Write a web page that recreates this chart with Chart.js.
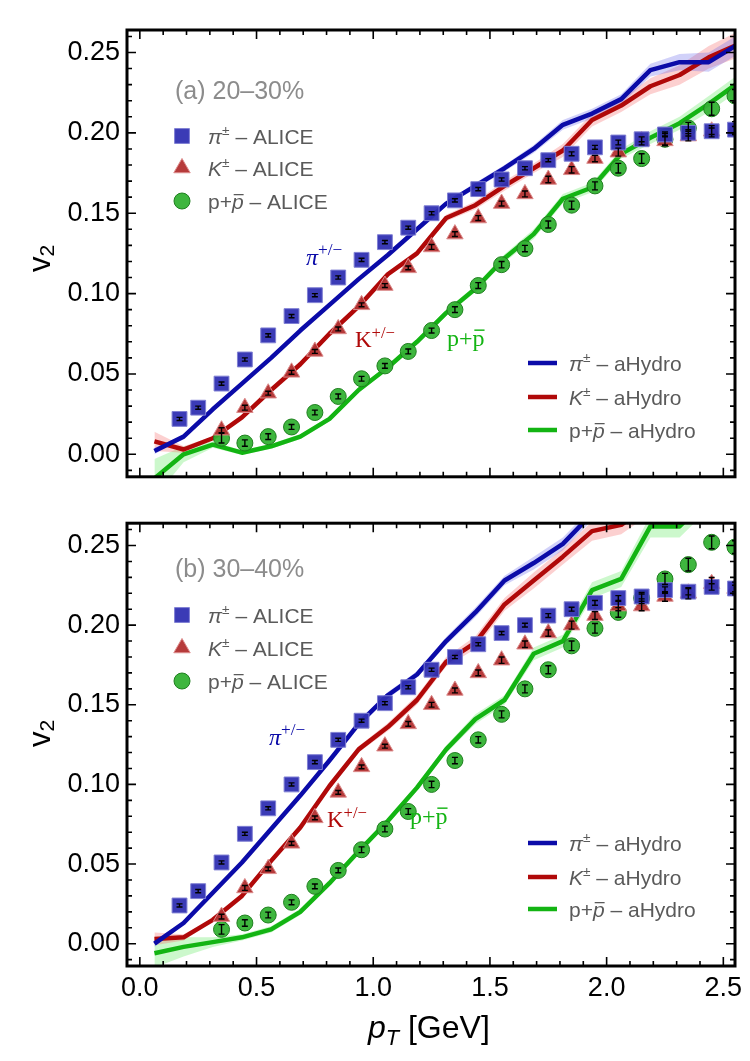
<!DOCTYPE html>
<html>
<head>
<meta charset="utf-8">
<script src="https://cdn.jsdelivr.net/npm/chart.js@4.4.1/dist/chart.umd.min.js"></script>
<style>
  html, body { margin: 0; padding: 0; background: #fff; }
  body { width: 750px; height: 1061px; position: relative; overflow: hidden; }
  .panel { position: absolute; left: 0; width: 750px; }
  #wrapA { top: 0; height: 500px; }
  #wrapB { top: 500px; height: 561px; }
</style>
</head>
<body>
<div id="wrapA" class="panel"><canvas id="chartA" width="750" height="500"></canvas></div>
<div id="wrapB" class="panel"><canvas id="chartB" width="750" height="561"></canvas></div>
<script>
// ---- data (v2 vs pT) ----
const ptPion = [0.17, 0.25, 0.35, 0.45, 0.55, 0.65, 0.75, 0.85, 0.95, 1.05, 1.15, 1.25, 1.35, 1.45, 1.55, 1.65, 1.75, 1.85, 1.95, 2.05, 2.15, 2.25, 2.35, 2.45, 2.55];
const ptHeavy = [0.35, 0.45, 0.55, 0.65, 0.75, 0.85, 0.95, 1.05, 1.15, 1.25, 1.35, 1.45, 1.55, 1.65, 1.75, 1.85, 1.95, 2.05, 2.15, 2.25, 2.35, 2.45, 2.55];
const ptModel = [0.0625, 0.1875, 0.3125, 0.4375, 0.5625, 0.6875, 0.8125, 0.9375, 1.0625, 1.1875, 1.3125, 1.4375, 1.5625, 1.6875, 1.8125, 1.9375, 2.0625, 2.1875, 2.3125, 2.4375, 2.5625];

const xTicks = [0, 0.5, 1, 1.5, 2, 2.5];
const yTicks = [0, 0.05, 0.1, 0.15, 0.2, 0.25];

// (a) 20-30%
const pionA = [0.022, 0.029, 0.044, 0.059, 0.074, 0.086, 0.099, 0.110, 0.121, 0.132, 0.141, 0.150, 0.158, 0.165, 0.171, 0.178, 0.183, 0.187, 0.191, 0.194, 0.196, 0.199, 0.200, 0.201, 0.202];
const pionErrA = [0.001, 0.001, 0.001, 0.001, 0.001, 0.001, 0.001, 0.001, 0.001, 0.001, 0.001, 0.001, 0.001, 0.001, 0.001, 0.001, 0.001, 0.0012, 0.0012, 0.0015, 0.0015, 0.0015, 0.002, 0.002, 0.002];
const kaonA = [0.015, 0.029, 0.038, 0.051, 0.064, 0.078, 0.093, 0.105, 0.116, 0.129, 0.137, 0.147, 0.156, 0.162, 0.171, 0.177, 0.184, 0.188, 0.195, 0.195, 0.198, 0.201, 0.203];
const kaonErrA = [0.0015, 0.0015, 0.0012, 0.0012, 0.0012, 0.0012, 0.0012, 0.0012, 0.0012, 0.0015, 0.0015, 0.0015, 0.0015, 0.0018, 0.002, 0.002, 0.002, 0.0025, 0.0025, 0.003, 0.003, 0.0035, 0.004];
const protonA = [0.010, 0.007, 0.011, 0.017, 0.026, 0.036, 0.047, 0.055, 0.064, 0.077, 0.090, 0.105, 0.118, 0.128, 0.143, 0.155, 0.167, 0.178, 0.184, 0.196, 0.203, 0.215, 0.223];
const protonErrA = [0.003, 0.002, 0.0018, 0.0015, 0.0015, 0.0015, 0.0015, 0.0015, 0.0015, 0.0015, 0.0018, 0.0018, 0.002, 0.002, 0.0022, 0.0025, 0.0025, 0.003, 0.003, 0.0035, 0.0035, 0.004, 0.004];
const hydroPionA = [0.002, 0.011, 0.028, 0.044, 0.060, 0.077, 0.093, 0.109, 0.124, 0.140, 0.156, 0.167, 0.178, 0.190, 0.205, 0.212, 0.221, 0.239, 0.244, 0.244, 0.255];
const bandPionA = [0.002, 0.001, 0.001, 0.001, 0.001, 0.001, 0.001, 0.001, 0.001, 0.0015, 0.0015, 0.002, 0.002, 0.0025, 0.003, 0.003, 0.003, 0.004, 0.005, 0.006, 0.006];
const hydroKaonA = [0.008, 0.003, 0.010, 0.023, 0.040, 0.056, 0.075, 0.092, 0.112, 0.125, 0.147, 0.155, 0.167, 0.178, 0.189, 0.208, 0.217, 0.229, 0.236, 0.247, 0.255];
const bandKaonA = [0.006, 0.002, 0.001, 0.001, 0.0012, 0.0012, 0.0015, 0.0015, 0.0015, 0.002, 0.002, 0.0025, 0.003, 0.003, 0.004, 0.004, 0.004, 0.005, 0.006, 0.007, 0.008];
const hydroProtonA = [-0.015, 0.000, 0.006, 0.001, 0.005, 0.011, 0.022, 0.040, 0.054, 0.070, 0.088, 0.103, 0.122, 0.137, 0.159, 0.166, 0.187, 0.197, 0.206, 0.218, 0.231];
const bandProtonA = [0.012, 0.005, 0.002, 0.0015, 0.0015, 0.0015, 0.0015, 0.0015, 0.0015, 0.0015, 0.002, 0.002, 0.0025, 0.003, 0.003, 0.003, 0.003, 0.004, 0.004, 0.005, 0.005];

// (b) 30-40%
const pionB = [0.024, 0.033, 0.051, 0.069, 0.085, 0.100, 0.114, 0.128, 0.140, 0.151, 0.161, 0.172, 0.180, 0.188, 0.195, 0.200, 0.206, 0.210, 0.214, 0.217, 0.218, 0.222, 0.221, 0.224, 0.223];
const pionErrB = [0.001, 0.001, 0.001, 0.001, 0.001, 0.001, 0.001, 0.001, 0.001, 0.001, 0.001, 0.001, 0.001, 0.001, 0.001, 0.0012, 0.0012, 0.0012, 0.0015, 0.0015, 0.0015, 0.002, 0.002, 0.002, 0.002];
const kaonB = [0.017, 0.035, 0.047, 0.063, 0.079, 0.095, 0.111, 0.124, 0.138, 0.150, 0.159, 0.170, 0.178, 0.188, 0.195, 0.200, 0.206, 0.212, 0.212, 0.218, 0.220, 0.226, 0.223];
const kaonErrB = [0.0015, 0.0015, 0.0012, 0.0012, 0.0012, 0.0012, 0.0012, 0.0012, 0.0015, 0.0015, 0.0015, 0.0018, 0.002, 0.002, 0.002, 0.0025, 0.0025, 0.003, 0.003, 0.003, 0.0035, 0.004, 0.004];
const protonB = [0.009, 0.013, 0.018, 0.026, 0.036, 0.046, 0.059, 0.072, 0.083, 0.100, 0.115, 0.128, 0.144, 0.160, 0.172, 0.187, 0.198, 0.208, 0.217, 0.229, 0.238, 0.252, 0.249];
const protonErrB = [0.003, 0.002, 0.0018, 0.0015, 0.0015, 0.0015, 0.0018, 0.0018, 0.0018, 0.002, 0.002, 0.002, 0.0022, 0.0025, 0.0025, 0.003, 0.003, 0.003, 0.0035, 0.0035, 0.004, 0.004, 0.004];
const hydroPionB = [0.000, 0.013, 0.032, 0.051, 0.072, 0.093, 0.115, 0.138, 0.156, 0.169, 0.190, 0.208, 0.228, 0.239, 0.251, 0.270, 0.285, 0.297, 0.308, 0.318, 0.330];
const bandPionB = [0.002, 0.001, 0.001, 0.001, 0.001, 0.0015, 0.0015, 0.002, 0.002, 0.002, 0.0025, 0.003, 0.003, 0.004, 0.004, 0.004, 0.005, 0.005, 0.006, 0.006, 0.006];
const hydroKaonB = [0.003, 0.004, 0.015, 0.030, 0.052, 0.073, 0.099, 0.122, 0.136, 0.153, 0.177, 0.189, 0.213, 0.228, 0.243, 0.259, 0.263, 0.276, 0.288, 0.298, 0.310];
const bandKaonB = [0.004, 0.002, 0.001, 0.0012, 0.0015, 0.0015, 0.002, 0.002, 0.0025, 0.003, 0.003, 0.004, 0.004, 0.005, 0.005, 0.006, 0.006, 0.006, 0.007, 0.007, 0.007];
const hydroProtonB = [-0.006, -0.002, 0.001, 0.004, 0.009, 0.020, 0.038, 0.058, 0.077, 0.098, 0.122, 0.141, 0.153, 0.182, 0.190, 0.222, 0.229, 0.262, 0.262, 0.280, 0.290];
const bandProtonB = [0.009, 0.006, 0.003, 0.002, 0.002, 0.002, 0.002, 0.002, 0.002, 0.002, 0.0025, 0.003, 0.003, 0.004, 0.004, 0.005, 0.005, 0.007, 0.007, 0.007, 0.007];

// ---- styling ----
const SANS = '"Liberation Sans", Arial, sans-serif';
const SERIF = '"Liberation Serif", "Times New Roman", serif';
const COL = {
    pion:   { line: '#0b0ba8', band: 'rgba(90,90,235,0.28)', fill: 'rgba(48,48,178,0.95)', edge: '#8080d4' },
    kaon:   { line: '#b00909', band: 'rgba(245,110,110,0.32)', fill: 'rgba(178,48,48,0.95)', edge: '#dc8c8c' },
    proton: { line: '#13b413', band: 'rgba(110,235,110,0.35)', fill: 'rgba(52,178,52,0.95)', edge: '#1f7f1f' },
};
const legendGray = '#5a5a5a';
const tagGray = '#8c8c8c';

// draw a run of text pieces (italic / superscript / subscript / overbar)
function rich(ctx, x, y, parts, size, family, color) {
    let cx = x;
    ctx.fillStyle = color;
    ctx.strokeStyle = color;
    for (const p of parts) {
        const fs = p.sup ? size * (p.scale ?? 0.65) : p.sub ? size * 0.68 : size;
        ctx.font = `${p.it ? 'italic ' : ''}${fs}px ${family}`;
        const dy = p.sup ? -size * 0.4 : p.sub ? (p.dy ?? size * 0.22) : 0;
        ctx.fillText(p.t, cx, y + dy);
        const w = ctx.measureText(p.t).width;
        if (p.bar) {
            ctx.lineWidth = Math.max(1, size * 0.06);
            ctx.beginPath();
            ctx.moveTo(cx + w * 0.15, y - size * 0.66);
            ctx.lineTo(cx + w * 1.0, y - size * 0.66);
            ctx.stroke();
        }
        cx += w;
    }
    return cx - x;
}

function marker(ctx, style, x, y, col) {
    const r = style === 'rect' ? 10.5 : style === 'triangle' ? 9.5 : 8;
    ctx.fillStyle = col.fill;
    ctx.strokeStyle = col.edge;
    ctx.lineWidth = 1;
    Chart.helpers.drawPoint(ctx, { pointStyle: style, radius: r, borderWidth: 1, rotation: 0 }, x, y);
}

// error bars on the ALICE points, drawn through the y scale
const errorBars = {
    id: 'errorBars',
    afterDatasetsDraw(chart) {
        const { ctx, chartArea: a, scales } = chart;
        ctx.save();
        ctx.beginPath();
        ctx.rect(a.left, a.top, a.right - a.left, a.bottom - a.top);
        ctx.clip();
        ctx.strokeStyle = '#000';
        ctx.lineWidth = 1.4;
        ctx.beginPath();
        chart.data.datasets.forEach((ds, i) => {
            if (!ds.errY) return;
            chart.getDatasetMeta(i).data.forEach((pt, j) => {
                const v = ds.data[j].y, e = ds.errY[j];
                const y0 = scales.y.getPixelForValue(v - e);
                const y1 = scales.y.getPixelForValue(v + e);
                const x = pt.x, c = 3;
                ctx.moveTo(x, y0); ctx.lineTo(x, y1);
                ctx.moveTo(x - c, y0); ctx.lineTo(x + c, y0);
                ctx.moveTo(x - c, y1); ctx.lineTo(x + c, y1);
            });
        });
        ctx.stroke();
        ctx.restore();
    }
};

// frame with inward ticks on all four sides
const frameTicks = {
    id: 'frameTicks',
    afterDraw(chart) {
        const { ctx, chartArea: a, scales: { x, y } } = chart;
        ctx.save();
        ctx.strokeStyle = '#000';
        ctx.lineWidth = 1.6;
        ctx.beginPath();
        for (let i = 0; i <= 25; i++) {
            const px = x.getPixelForValue(i / 10);
            const len = i % 5 === 0 ? 9 : 5;
            ctx.moveTo(px, a.bottom); ctx.lineTo(px, a.bottom - len);
            ctx.moveTo(px, a.top); ctx.lineTo(px, a.top + len);
        }
        for (let i = -1; i <= 26; i++) {
            const py = y.getPixelForValue(i / 100);
            const len = i % 5 === 0 ? 9 : 5;
            ctx.moveTo(a.left, py); ctx.lineTo(a.left + len, py);
            ctx.moveTo(a.right, py); ctx.lineTo(a.right - len, py);
        }
        ctx.stroke();
        ctx.lineWidth = 3;
        ctx.strokeRect(a.left, a.top, a.right - a.left, a.bottom - a.top);
        ctx.restore();
    }
};

// legends, labels and axis titles
function decor(cfg) {
    return {
        id: 'decor',
        afterDraw(chart) {
            const ctx = chart.ctx;
            ctx.save();
            ctx.textAlign = 'left';
            ctx.textBaseline = 'alphabetic';

            rich(ctx, 175, cfg.tagY + 9, [{ t: cfg.tag }], 25, SANS, tagGray);

            const aliceRows = [
                ['rect', COL.pion, [{ t: 'π', it: true }, { t: '±', sup: true }, { t: ' – ALICE' }]],
                ['triangle', COL.kaon, [{ t: 'K', it: true }, { t: '±', sup: true }, { t: ' – ALICE' }]],
                ['circle', COL.proton, [{ t: 'p+' }, { t: 'p', it: true, bar: true }, { t: ' – ALICE' }]],
            ];
            aliceRows.forEach(([style, col, parts], i) => {
                const cy = cfg.aliceY[i];
                marker(ctx, style, 182, cy, col);
                rich(ctx, 208, cy + 7.5, parts, 21, SANS, legendGray);
            });

            const hydroRows = [
                [COL.pion, [{ t: 'π', it: true }, { t: '±', sup: true }, { t: ' – aHydro' }]],
                [COL.kaon, [{ t: 'K', it: true }, { t: '±', sup: true }, { t: ' – aHydro' }]],
                [COL.proton, [{ t: 'p+' }, { t: 'p', it: true, bar: true }, { t: ' – aHydro' }]],
            ];
            hydroRows.forEach(([col, parts], i) => {
                const cy = cfg.hydroY[i];
                ctx.strokeStyle = col.line;
                ctx.lineWidth = 4.5;
                ctx.beginPath();
                ctx.moveTo(528, cy); ctx.lineTo(557, cy);
                ctx.stroke();
                rich(ctx, 569, cy + 7.5, parts, 21, SANS, legendGray);
            });

            // curve labels
            const L = cfg.labels;
            rich(ctx, L.pi[0], L.pi[1], [{ t: 'π', it: true }, { t: '+/−', sup: true, scale: 0.72 }], 24, SERIF, COL.pion.line);
            rich(ctx, L.k[0], L.k[1], [{ t: 'K' }, { t: '+/−', sup: true, scale: 0.72 }], 23, SERIF, COL.kaon.line);
            rich(ctx, L.p[0], L.p[1], [{ t: 'p+' }, { t: 'p', bar: true }], 24, SERIF, COL.proton.line);

            // y axis title v2
            ctx.save();
            ctx.translate(50, cfg.v2Start);
            ctx.rotate(-Math.PI / 2);
            rich(ctx, 0, 0, [{ t: 'v' }, { t: '2', sub: true, dy: 4 }], 31, SANS, '#000');
            ctx.restore();

            if (cfg.xTitle) {
                const parts = [{ t: 'p', it: true }, { t: 'T', it: true, sub: true, dy: 7 }, { t: ' [GeV]' }];
                rich(ctx, 368, cfg.xTitleY, parts, 32, SANS, '#000');
            }
            ctx.restore();
        }
    };
}

function pts(xs, ys, shift) {
    return xs.map((x, i) => ({ x, y: ys[i] + (shift ? shift[i] : 0) }));
}
function neg(arr) { return arr.map(v => -v); }

function buildPanel(canvasId, d, cfg) {
    const datasets = [];
    [[d.hydroPion, d.bandPion, COL.pion], [d.hydroKaon, d.bandKaon, COL.kaon], [d.hydroProton, d.bandProton, COL.proton]]
        .forEach(([ys, band, col]) => {
            datasets.push({ type: 'line', data: pts(ptModel, ys, neg(band)), borderColor: 'rgba(0,0,0,0)', borderWidth: 0,
                pointRadius: 0, fill: false, order: 3, clip: 0 });
            datasets.push({ type: 'line', data: pts(ptModel, ys, band), borderColor: 'rgba(0,0,0,0)', borderWidth: 0,
                pointRadius: 0, fill: '-1', backgroundColor: col.band, order: 3, clip: 0 });
        });
    [[d.hydroPion, COL.pion], [d.hydroKaon, COL.kaon], [d.hydroProton, COL.proton]].forEach(([ys, col]) => {
        datasets.push({ type: 'line', data: pts(ptModel, ys), borderColor: col.line, borderWidth: 4.5, pointRadius: 0,
            fill: false, tension: 0, borderJoinStyle: 'round', order: 2, clip: 0 });
    });
    [[ptPion, d.pion, d.pionErr, 'rect', 10.5, COL.pion],
     [ptHeavy, d.kaon, d.kaonErr, 'triangle', 9.5, COL.kaon],
     [ptHeavy, d.proton, d.protonErr, 'circle', 8, COL.proton]].forEach(([xs, ys, err, style, r, col]) => {
        datasets.push({ type: 'scatter', data: pts(xs, ys), errY: err, pointStyle: style, pointRadius: r,
            pointHoverRadius: r, backgroundColor: col.fill, borderColor: col.edge, borderWidth: 1,
            showLine: false, order: 0, clip: 0 });
    });

    return new Chart(document.getElementById(canvasId), {
        type: 'scatter',
        data: { datasets },
        options: {
            responsive: false,
            animation: false,
            events: [],
            layout: { padding: { top: cfg.padTop, right: 15, left: 0, bottom: 0 } },
            plugins: { legend: { display: false }, tooltip: { enabled: false } },
            scales: {
                x: {
                    type: 'linear', min: -0.055, max: 2.55,
                    afterBuildTicks: s => { s.ticks = xTicks.map(v => ({ value: v })); },
                    afterFit: s => { s.height = cfg.xHeight; },
                    ticks: { display: cfg.showX, autoSkip: false, maxRotation: 0, padding: 6, color: '#000',
                        font: { family: SANS, size: 27 }, callback: v => v.toFixed(1) },
                    grid: { display: false, drawTicks: false },
                    border: { display: false },
                },
                y: {
                    type: 'linear', min: -0.014, max: 0.264,
                    afterBuildTicks: s => { s.ticks = yTicks.map(v => ({ value: v })); },
                    afterFit: s => { s.width = 127; },
                    ticks: { autoSkip: false, padding: 7, color: '#000',
                        font: { family: SANS, size: 27 }, callback: v => v.toFixed(2) },
                    grid: { display: false, drawTicks: false },
                    border: { display: false },
                },
            },
        },
        plugins: [errorBars, frameTicks, decor(cfg)],
    });
}

buildPanel('chartA', {
    pion: pionA, pionErr: pionErrA, kaon: kaonA, kaonErr: kaonErrA, proton: protonA, protonErr: protonErrA,
    hydroPion: hydroPionA, bandPion: bandPionA, hydroKaon: hydroKaonA, bandKaon: bandKaonA,
    hydroProton: hydroProtonA, bandProton: bandProtonA,
}, {
    padTop: 30, xHeight: 15, showX: false,
    tag: '(a) 20–30%', tagY: 90, aliceY: [136, 168, 201], hydroY: [363, 397, 430],
    labels: { pi: [306, 265], k: [355, 347], p: [447, 346] },
    v2Start: 272,
});

buildPanel('chartB', {
    pion: pionB, pionErr: pionErrB, kaon: kaonB, kaonErr: kaonErrB, proton: protonB, protonErr: protonErrB,
    hydroPion: hydroPionB, bandPion: bandPionB, hydroKaon: hydroKaonB, bandKaon: bandKaonB,
    hydroProton: hydroProtonB, bandProton: bandProtonB,
}, {
    padTop: 10, xHeight: 95, showX: true,
    tag: '(b) 30–40%', tagY: 68, aliceY: [115, 148, 181], hydroY: [343, 377, 409],
    labels: { pi: [269, 245], k: [327, 327], p: [410, 324] },
    v2Start: 247, xTitle: true, xTitleY: 538,
});
</script>
</body>
</html>
